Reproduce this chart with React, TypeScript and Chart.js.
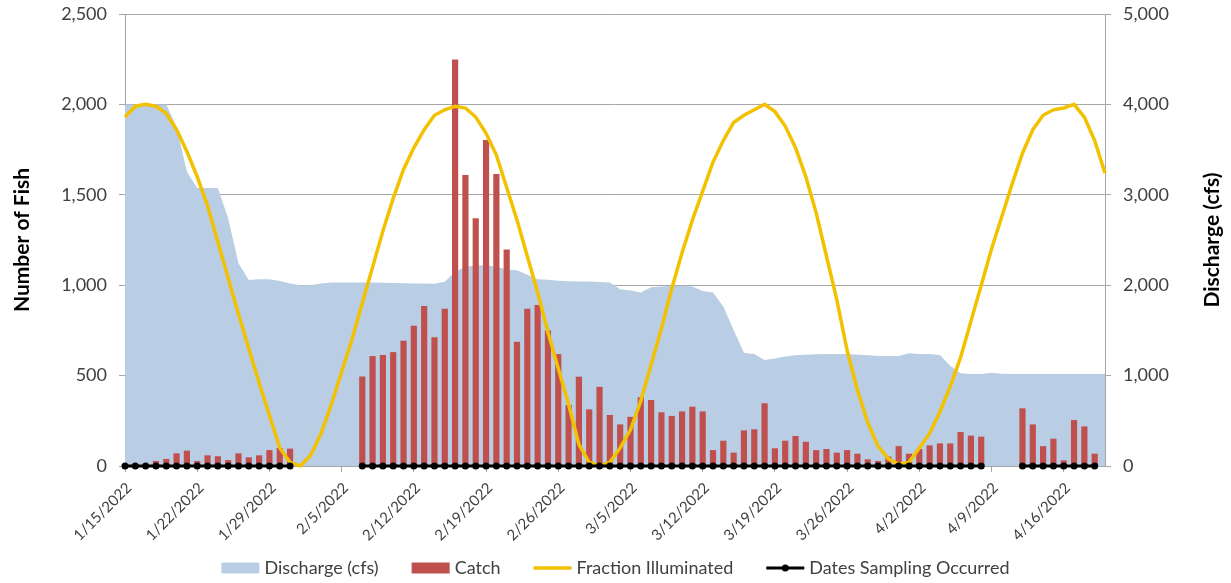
import React, { useEffect, useRef } from 'react';
import { Chart, registerables } from 'chart.js';

Chart.register(...registerables);

// ---------- DATA ----------
// one category per day, 1/15/2022 .. 4/20/2022
const START_DATE = [2022, 0, 15];
const DAY_COUNT = 96;
const DATES: string[] = Array.from({ length: DAY_COUNT }, (_, i) => {
  const d = new Date(START_DATE[0], START_DATE[1], START_DATE[2] + i);
  return `${d.getMonth() + 1}/${d.getDate()}/${d.getFullYear()}`;
});

const TICK_LABELS = [
  '1/15/2022', '1/22/2022', '1/29/2022', '2/5/2022', '2/12/2022', '2/19/2022', '2/26/2022',
  '3/5/2022', '3/12/2022', '3/19/2022', '3/26/2022', '4/2/2022', '4/9/2022', '4/16/2022',
];

// Discharge (cfs), right axis
const DISCHARGE = [
  4000, 4000, 4000, 4000, 4000, 3750, 3256, 3075, 3075, 3075, 2740, 2242, 2057, 2065, 2065, 2046, 2020,
  2000, 2000, 2020, 2030, 2030, 2030,
  2030, 2030, 2028, 2025, 2022, 2020, 2018, 2015, 2038, 2150, 2205, 2218, 2223, 2205, 2175, 2165, 2115, 2065, 2060, 2050, 2045, 2040,
  2040, 2036, 2030, 1955, 1940, 1918, 1976, 1985, 1990, 1993, 1985, 1936, 1920, 1765, 1504, 1254, 1239, 1173, 1190, 1210, 1224, 1232, 1235, 1239, 1239, 1239, 1232, 1225, 1217, 1217, 1217,
  1246, 1239, 1239, 1228, 1106, 1025, 1018, 1018, 1032, 1020, 1018, 1018, 1018, 1018, 1018, 1018, 1018, 1018, 1018, 1018,
];

// Catch (number of fish), left axis
const CATCH = [
  0, 0, 0, 28, 39, 70, 85, 28, 59, 54, 33, 70, 48, 59, 88, 100, 96,
  null, null, null, null, null, null,
  495, 608, 614, 630, 693, 776, 885, 712, 870, 2249, 1609, 1370, 1803, 1615, 1198, 687, 870, 890, 750, 619, 337, 494,
  313, 438, 282, 230, 272, 380, 365, 297, 277, 302, 328, 302, 88, 140, 74, 197, 203, 347, 98, 140, 166, 134, 88, 94, 74, 88, 68, 37, 28, 52, 110,
  68, 94, 114, 125, 125, 188, 168, 162, null, null, null, 319, 230, 110, 151, 31, 254, 219, 68, null,
];

// Fraction of moon illuminated (0..1)
const FRACTION = [
  0.965, 0.995, 1.0, 0.995, 0.975, 0.93, 0.87, 0.80, 0.72, 0.62, 0.52, 0.42, 0.325, 0.23, 0.14, 0.05, 0.01,
  0.0, 0.03, 0.09, 0.17, 0.26, 0.35,
  0.45, 0.55, 0.65, 0.74, 0.82, 0.88, 0.93, 0.97, 0.985, 0.995, 0.99, 0.965, 0.92, 0.86, 0.77, 0.68, 0.58, 0.48, 0.37, 0.27, 0.17, 0.06,
  0.01, 0.0, 0.01, 0.05, 0.10, 0.18, 0.28, 0.38, 0.49, 0.59, 0.68, 0.76, 0.84, 0.90, 0.95, 0.97, 0.985, 1.0, 0.98, 0.94, 0.88, 0.80, 0.70, 0.58, 0.46, 0.32, 0.21, 0.12, 0.055, 0.02, 0.005,
  0.01, 0.05, 0.09, 0.15, 0.22, 0.30, 0.40, 0.50, 0.60, 0.69, 0.78, 0.865, 0.93, 0.97, 0.985, 0.99, 1.0, 0.965, 0.90, 0.81,
];

// Dates sampling occurred (plotted at 0)
const SAMPLING = [
  0, 0, 0, 0, 0, 0, 0, 0, 0, 0, 0, 0, 0, 0, 0, 0, 0,
  null, null, null, null, null, null,
  0, 0, 0, 0, 0, 0, 0, 0, 0, 0, 0, 0, 0, 0, 0, 0, 0, 0, 0, 0, 0, 0,
  0, 0, 0, 0, 0, 0, 0, 0, 0, 0, 0, 0, 0, 0, 0, 0, 0, 0, 0, 0, 0, 0, 0, 0, 0, 0, 0, 0, 0, 0, 0,
  0, 0, 0, 0, 0, 0, 0, 0, null, null, null, 0, 0, 0, 0, 0, 0, 0, 0, null,
];

// ---------- STYLE ----------
const FONT = 'Lato, "Open Sans", sans-serif';
const TEXT = '#404040';
const GRID = '#a6a6a6';
const AREA = '#b9cde5';
const BAR = '#c0504d';
const YELLOW = '#f2c100';
const BLACK = '#000000';

const decorations = {
  id: 'decorations',
  afterDraw(chart: any) {
    const ctx: CanvasRenderingContext2D = chart.ctx;
    const { top, bottom } = chart.chartArea;
    const cy = (top + bottom) / 2;
    ctx.save();
    ctx.fillStyle = '#000';
    ctx.font = `bold 21px ${FONT}`;
    ctx.textAlign = 'center';
    ctx.textBaseline = 'middle';
    const titles: [number, string][] = [[22, 'Number of Fish'], [1212, 'Discharge (cfs)']];
    titles.forEach(([x, t]) => {
      ctx.save();
      ctx.translate(x, cy);
      ctx.rotate(-Math.PI / 2);
      ctx.fillText(t, 0, 0);
      ctx.restore();
    });

    // legend
    ctx.font = `18px ${FONT}`;
    const dss = chart.data.datasets;
    const BOX = 38, GAP = 5, SEP = 33;
    const widths = dss.map((d: any) => ctx.measureText(d.label).width);
    const total = widths.reduce((a: number, w: number) => a + BOX + GAP + w, 0) + SEP * (dss.length - 1);
    let x = (chart.width - total) / 2;
    const y = 568;
    dss.forEach((d: any, i: number) => {
      if (d.type === 'bar' || d.fill) {
        ctx.fillStyle = d.type === 'bar' ? BAR : AREA;
        ctx.fillRect(x, y - 5.5, BOX, 11);
      } else {
        ctx.strokeStyle = d.borderColor;
        ctx.lineWidth = d.borderWidth;
        ctx.beginPath();
        ctx.moveTo(x, y);
        ctx.lineTo(x + BOX, y);
        ctx.stroke();
        if (d.pointRadius > 0) {
          ctx.fillStyle = d.pointBackgroundColor;
          ctx.beginPath();
          ctx.arc(x + BOX / 2, y, d.pointRadius, 0, Math.PI * 2);
          ctx.fill();
        }
      }
      x += BOX + GAP;
      ctx.fillStyle = TEXT;
      ctx.textAlign = 'left';
      ctx.textBaseline = 'middle';
      ctx.fillText(d.label, x, y);
      x += widths[i] + SEP;
    });
    ctx.restore();
  },
};

export default function App() {
  const ref = useRef<HTMLCanvasElement>(null);
  useEffect(() => {
    Chart.defaults.font.family = FONT;
    const chart = new Chart(ref.current as HTMLCanvasElement, {
      type: 'bar',
      data: {
        labels: DATES,
        datasets: [
          {
            type: 'line',
            label: 'Discharge (cfs)',
            data: DISCHARGE,
            yAxisID: 'y1',
            fill: 'origin',
            backgroundColor: AREA,
            borderColor: AREA,
            borderWidth: 0,
            pointRadius: 0,
            tension: 0,
            order: 4,
          },
          {
            type: 'bar',
            label: 'Catch',
            data: CATCH,
            yAxisID: 'y',
            backgroundColor: BAR,
            barPercentage: 0.6,
            categoryPercentage: 1.0,
            order: 3,
          },
          {
            type: 'line',
            label: 'Fraction Illuminated',
            data: FRACTION,
            yAxisID: 'y2',
            borderColor: YELLOW,
            borderWidth: 3.5,
            pointRadius: 0,
            fill: false,
            tension: 0,
            clip: false,
            order: 2,
          },
          {
            type: 'line',
            label: 'Dates Sampling Occurred',
            data: SAMPLING,
            yAxisID: 'y',
            borderColor: BLACK,
            borderWidth: 3,
            pointRadius: 3.5,
            pointBackgroundColor: BLACK,
            pointBorderColor: BLACK,
            pointBorderWidth: 0,
            fill: false,
            spanGaps: false,
            clip: false,
            order: 1,
          },
        ] as any,
      },
      options: {
        animation: false,
        responsive: true,
        maintainAspectRatio: false,
        layout: { padding: { top: 14, left: 0, right: 0, bottom: 0 } },
        plugins: {
          legend: { display: false },
          tooltip: { enabled: false },
        },
        scales: {
          x: {
            type: 'category',
            offset: false,
            grid: {
              display: true,
              offset: false,
              drawOnChartArea: false,
              drawTicks: true,
              tickLength: 6,
              color: GRID,
            },
            border: { display: true, color: GRID },
            ticks: {
              autoSkip: false,
              maxRotation: 45,
              minRotation: 45,
              padding: 7,
              labelOffset: 4,
              color: TEXT,
              font: { family: FONT, size: 15 },
              callback: (_v: any, i: number) => (TICK_LABELS.includes(DATES[i]) ? DATES[i] : null),
            },
            afterFit: (s: any) => { s.height = 117; },
          },
          y: {
            position: 'left',
            min: 0,
            max: 2500,
            ticks: {
              stepSize: 500,
              padding: 12,
              color: TEXT,
              font: { family: FONT, size: 18 },
              callback: (v: any) => Number(v).toLocaleString('en-US'),
            },
            grid: { color: GRID, tickLength: 6 },
            border: { display: true, color: GRID },
            afterFit: (s: any) => { s.width = 125; s.paddingTop = 0; s.paddingBottom = 0; },
          },
          y1: {
            position: 'right',
            min: 0,
            max: 5000,
            ticks: {
              stepSize: 1000,
              padding: 12,
              color: TEXT,
              font: { family: FONT, size: 18 },
              callback: (v: any) => Number(v).toLocaleString('en-US'),
            },
            grid: { drawOnChartArea: false, color: GRID, tickLength: 6 },
            border: { display: true, color: GRID },
            afterFit: (s: any) => { s.width = 126; s.paddingTop = 0; s.paddingBottom = 0; },
          },
          y2: {
            display: false,
            min: 0,
            max: 1.25,
          },
        },
      } as any,
      plugins: [decorations],
    });
    return () => chart.destroy();
  }, []);
  return (
    <div style={{ position: 'fixed', left: 0, top: 0, width: 1231, height: 583, background: '#fff' }}>
      <canvas ref={ref} />
    </div>
  );
}
